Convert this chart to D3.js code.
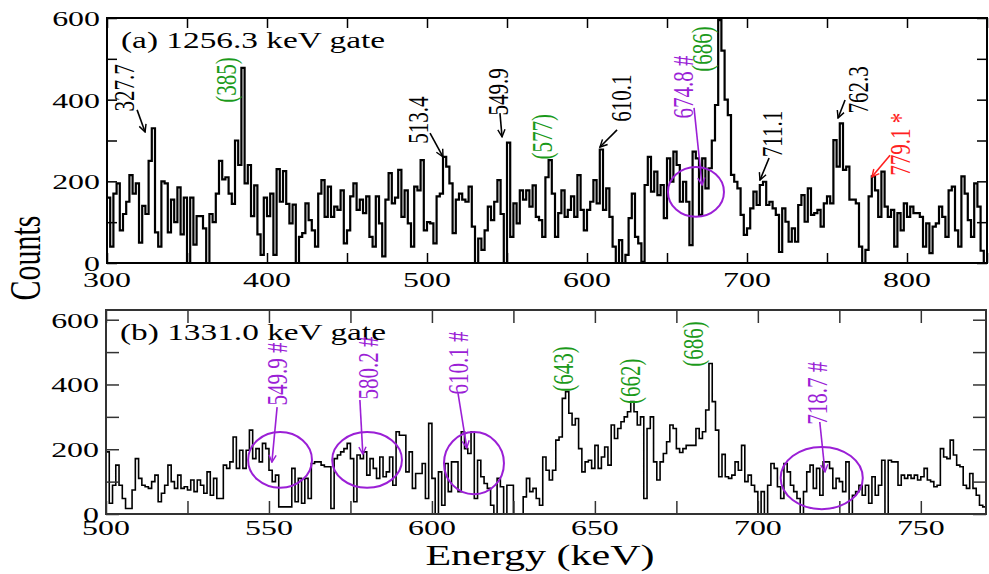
<!DOCTYPE html>
<html>
<head>
<meta charset="utf-8">
<script src="https://cdn.jsdelivr.net/npm/d3@7"></script>
<style>
  body { margin: 0; background: #fff; }
  svg { display: block; }
  text { font-family: "Liberation Serif", "Times New Roman", serif; }
</style>
</head>
<body>
<div id="chart"></div>
<script>
// ---- data ----
// panel (a): 2 keV bins starting at 300 keV
var startA = 300, binA = 2;
var countsA = [
  160,40,170,195,80,120,150,215,170,195,50,140,120,250,330,75,40,200,195,75,
  155,100,185,70,160,0,160,45,115,115,85,0,120,100,170,250,205,210,170,145,
  300,240,478,195,240,115,190,70,20,160,115,170,20,230,
  150,225,145,97,143,0,64,73,146,105,80,40,170,203,113,187,113,138,130,178,
  48,80,163,195,130,155,122,163,64,40,163,97,16,155,220,146,160,228,113,178,
  97,40,187,178,252,80,100,97,48,163,170,260,236,195,73,155,170,
  155,150,187,89,0,60,32,80,138,105,150,203,120,0,295,64,146,97,178,155,
  178,138,190,113,105,64,210,252,170,64,122,178,113,130,163,113,215,130,80,130,
  150,203,146,278,130,183,113,40,0,56,0,20,110,170,64,48,
  3,191,260,175,224,166,191,110,256,199,273,240,150,199,150,44,273,256,118,256,
  183,232,300,387,595,520,400,362,216,199,183,118,69,85,134,175,142,191,199,142,
  150,134,118,27,134,101,52,85,52,142,166,101,183,118,
  122,130,89,146,163,146,301,236,342,228,236,155,155,146,40,0,32,163,212,178,
  113,224,138,113,130,40,122,80,146,113,138,122,122,113,40,97,24,89,97,138,
  113,64,178,187,80,40,212,170,105,64,195,138,30,0
];

// panel (b): 1 keV bins starting at 500 keV
var startB = 500, binB = 1;
var countsB = [
  192,33,89,151,89,48,17,17,74,171,110,89,84,79,100,120,38,64,89,151,
  100,79,120,79,84,74,105,69,105,89,64,130,58,110,48,48,151,141,161,238,
  141,197,141,197,259,171,202,161,218,202,135,100,120,22,22,22,22,141,38,110,
  33,110,48,156,161,161,151,146,146,17,171,182,192,202,218,171,38,182,171,192,
  120,171,141,110,176,115,130,176,89,254,
  243,243,130,192,79,125,125,156,48,280,110,0,130,27,156,69,161,161,69,254,
  202,187,254,48,166,115,94,79,27,0,110,84,0,89,89,0,0,0,53,110,
  69,79,48,27,176,135,105,135,228,238,357,378,311,275,295,202,130,161,166,141,
  212,141,176,207,151,275,233,264,285,300,316,347,316,275,300,48,264,300,161,105,
  161,187,223,275,264,202,
  190,202,212,212,212,264,233,254,321,465,347,259,115,184,115,110,120,161,135,212,
  100,120,89,69,0,69,0,89,156,141,84,48,156,130,89,69,48,0,69,130,
  151,79,141,58,161,161,141,79,110,100,69,161,0,58,69,89,58,89,33,115,
  58,89,166,0,166,161,161,89,120,110,120,110,120,105,115,141,105,100,84,89,
  202,176,171,228,182,151,146,89,79,125,79,58,27,22
];

var ticksAx = [300, 400, 500, 600, 700, 800];
var ticksBx = [500, 550, 600, 650, 700, 750];
var ticksY = [0, 200, 400, 600];

// annotations: label anchor (energy, counts) and optional arrow (from -> to)
var notesA = [
  {text: "327.7", kind: "known", e: 311, c: 429, arrow: [318.8, 375, 323.8, 321]},
  {text: "(385)", kind: "bg", e: 374.4, c: 448},
  {text: "513.4", kind: "known", e: 494.4, c: 350, arrow: [501.9, 318, 510, 260]},
  {text: "549.9", kind: "known", e: 544.4, c: 419, arrow: [545.6, 367, 546.9, 309]},
  {text: "(577)", kind: "bg", e: 571.9, c: 309},
  {text: "610.1", kind: "known", e: 621.3, c: 404, arrow: [618.8, 326, 608.1, 284]},
  {text: "674.8 #", kind: "hash", e: 660, c: 431, arrow: [666.9, 380, 671.9, 191]},
  {text: "(686)", kind: "bg", e: 671.9, c: 524},
  {text: "711.1", kind: "known", e: 715.6, c: 316, arrow: [713.8, 257, 708.1, 203]},
  {text: "762.3", kind: "known", e: 769.4, c: 424, arrow: [761.3, 399, 756.9, 355]},
  {text: "779.1 *", kind: "new", e: 795.6, c: 291, arrow: [789.4, 264, 778.1, 211]}
];
var circlesA = [{e: 668.1, c: 174, re: 17.5, rc: 61}];

var notesB = [
  {text: "549.9 #", kind: "hash", e: 552.5, c: 432, arrow: [552.5, 330, 550.9, 160]},
  {text: "580.2 #", kind: "hash", e: 580.4, c: 451, arrow: [577.9, 352, 578.8, 185]},
  {text: "610.1 #", kind: "hash", e: 608, c: 466, arrow: [608, 373, 610.7, 204]},
  {text: "(643)", kind: "bg", e: 640.2, c: 448},
  {text: "(662)", kind: "bg", e: 660.7, c: 410},
  {text: "(686)", kind: "bg", e: 680.1, c: 525},
  {text: "718.7 #", kind: "hash", e: 718.1, c: 373, arrow: [719, 284, 720.6, 130]}
];
var circlesB = [
  {e: 553.4, c: 167, re: 9.8, rc: 86},
  {e: 580.1, c: 167, re: 10.7, rc: 86},
  {e: 612.9, c: 157, re: 9.2, rc: 96},
  {e: 719.6, c: 111, re: 12.6, rc: 96}
];

var colors = {known: "#000", bg: "#1b9a1b", hash: "#9b1fd6", new: "#ff2020"};
var SX = 1.45;   // the original figure is stretched sideways

var svg = d3.select("#chart").append("svg")
    .attr("width", 989).attr("height", 574);

var defs = svg.append("defs");
Object.keys(colors).forEach(function(k) {
  defs.append("marker")
      .attr("id", "arr-" + k)
      .attr("viewBox", "0 0 10 10")
      .attr("refX", 9).attr("refY", 5)
      .attr("markerWidth", 9).attr("markerHeight", 9)
      .attr("markerUnits", "userSpaceOnUse")
      .attr("orient", "auto")
      .append("path")
      .attr("d", "M1,1 L9,5 L1,9")
      .attr("fill", "none")
      .attr("stroke", colors[k])
      .attr("stroke-width", 1.6);
});

// stretched text helper
function stext(g, x, y, str, size, rotate) {
  var t = g.append("text")
      .attr("transform", "translate(" + x + "," + y + ") scale(" + SX + ",1)" + (rotate ? " rotate(-90)" : ""))
      .attr("font-size", size)
      .text(str);
  return t;
}

function panel(p) {
  var x = d3.scaleLinear().domain(p.xdom).range([p.left, p.right]);
  var y = d3.scaleLinear().domain(p.ydom).range([p.bottom, p.top]);
  var g = svg.append("g");

  g.append("clipPath").attr("id", "clip-" + p.id)
    .append("rect")
      .attr("x", p.left).attr("y", p.top)
      .attr("width", p.right - p.left).attr("height", p.bottom - p.top);

  // spectrum as a histogram
  var pts = p.counts.map(function(c, i) { return [p.start + i * p.bin, c]; });
  pts.push([p.start + p.counts.length * p.bin, p.counts[p.counts.length - 1]]);
  var line = d3.line()
      .x(function(d) { return x(d[0]); })
      .y(function(d) { return y(d[1]); })
      .curve(d3.curveStepAfter);
  g.append("path")
      .datum(pts)
      .attr("clip-path", "url(#clip-" + p.id + ")")
      .attr("d", line)
      .attr("fill", "none")
      .attr("stroke", "#000")
      .attr("stroke-width", p.lw)
      .attr("stroke-linejoin", "miter");

  // ticks on all four sides, pointing in
  var xt = d3.range(p.xdom[0], p.xdom[1] + 0.01, p.xstep);
  var yt = d3.range(p.ydom[0], 600.01, 100);
  g.append("g")
      .attr("transform", "translate(0," + p.bottom + ")")
      .call(d3.axisBottom(x).tickValues(xt).tickSize(-p.tick).tickFormat(""));
  g.append("g")
      .attr("transform", "translate(0," + p.top + ")")
      .call(d3.axisTop(x).tickValues(xt).tickSize(-p.tick).tickFormat(""));
  g.append("g")
      .attr("transform", "translate(" + p.left + ",0)")
      .call(d3.axisLeft(y).tickValues(yt).tickSize(-p.tick).tickFormat(""));
  g.append("g")
      .attr("transform", "translate(" + p.right + ",0)")
      .call(d3.axisRight(y).tickValues(yt).tickSize(-p.tick).tickFormat(""));
  g.selectAll(".domain").remove();
  g.selectAll(".tick line").attr("stroke", p.frame).attr("stroke-width", 1.5);

  g.append("rect")
      .attr("x", p.left).attr("y", p.top)
      .attr("width", p.right - p.left).attr("height", p.bottom - p.top)
      .attr("fill", "none")
      .attr("stroke", p.frame)
      .attr("stroke-width", 2);

  // tick labels
  p.xlabels.forEach(function(v) {
    stext(g, x(v), p.bottom + p.xlabOff, v, 22).attr("text-anchor", "middle");
  });
  ticksY.forEach(function(v) {
    stext(g, p.left - 7, y(v) + 8, v, 22).attr("text-anchor", "end");
  });

  stext(g, p.left + 14, p.top + 30, p.title, 23);

  // ellipses
  p.circles.forEach(function(d) {
    g.append("ellipse")
        .attr("cx", x(d.e)).attr("cy", y(d.c))
        .attr("rx", x(d.e + d.re) - x(d.e))
        .attr("ry", y(d.c) - y(d.c + d.rc))
        .attr("fill", "none")
        .attr("stroke", colors.hash)
        .attr("stroke-width", 2);
  });

  // labels and arrows
  p.notes.forEach(function(d) {
    stext(g, x(d.e), y(d.c), d.text, 21, true)
        .attr("text-anchor", "middle")
        .attr("dominant-baseline", "central")
        .attr("fill", colors[d.kind]);
    if (d.arrow) {
      g.append("line")
          .attr("x1", x(d.arrow[0])).attr("y1", y(d.arrow[1]))
          .attr("x2", x(d.arrow[2])).attr("y2", y(d.arrow[3]))
          .attr("stroke", colors[d.kind])
          .attr("stroke-width", 1.6)
          .attr("marker-end", "url(#arr-" + d.kind + ")");
    }
  });
}

panel({
  id: "a", xdom: [300, 850], ydom: [0, 600],
  left: 107, right: 987, top: 18, bottom: 263,
  counts: countsA, start: startA, bin: binA, lw: 2.2,
  xstep: 50, tick: 10, frame: "#000", xlabOff: 24,
  xlabels: ticksAx, title: "(a) 1256.3 keV gate",
  notes: notesA, circles: circlesA
});

panel({
  id: "b", xdom: [500, 770], ydom: [0, 630],
  left: 106, right: 986, top: 310, bottom: 514,
  counts: countsB, start: startB, bin: binB, lw: 1.6,
  xstep: 25, tick: 13, frame: "#333", xlabOff: 21,
  xlabels: ticksBx, title: "(b) 1331.0 keV gate",
  notes: notesB, circles: circlesB
});

// axis titles
stext(svg, 40, 258, "Counts", 30, true).attr("text-anchor", "middle");
stext(svg, 540, 565, "Energy (keV)", 29).attr("text-anchor", "middle");
</script>
</body>
</html>
